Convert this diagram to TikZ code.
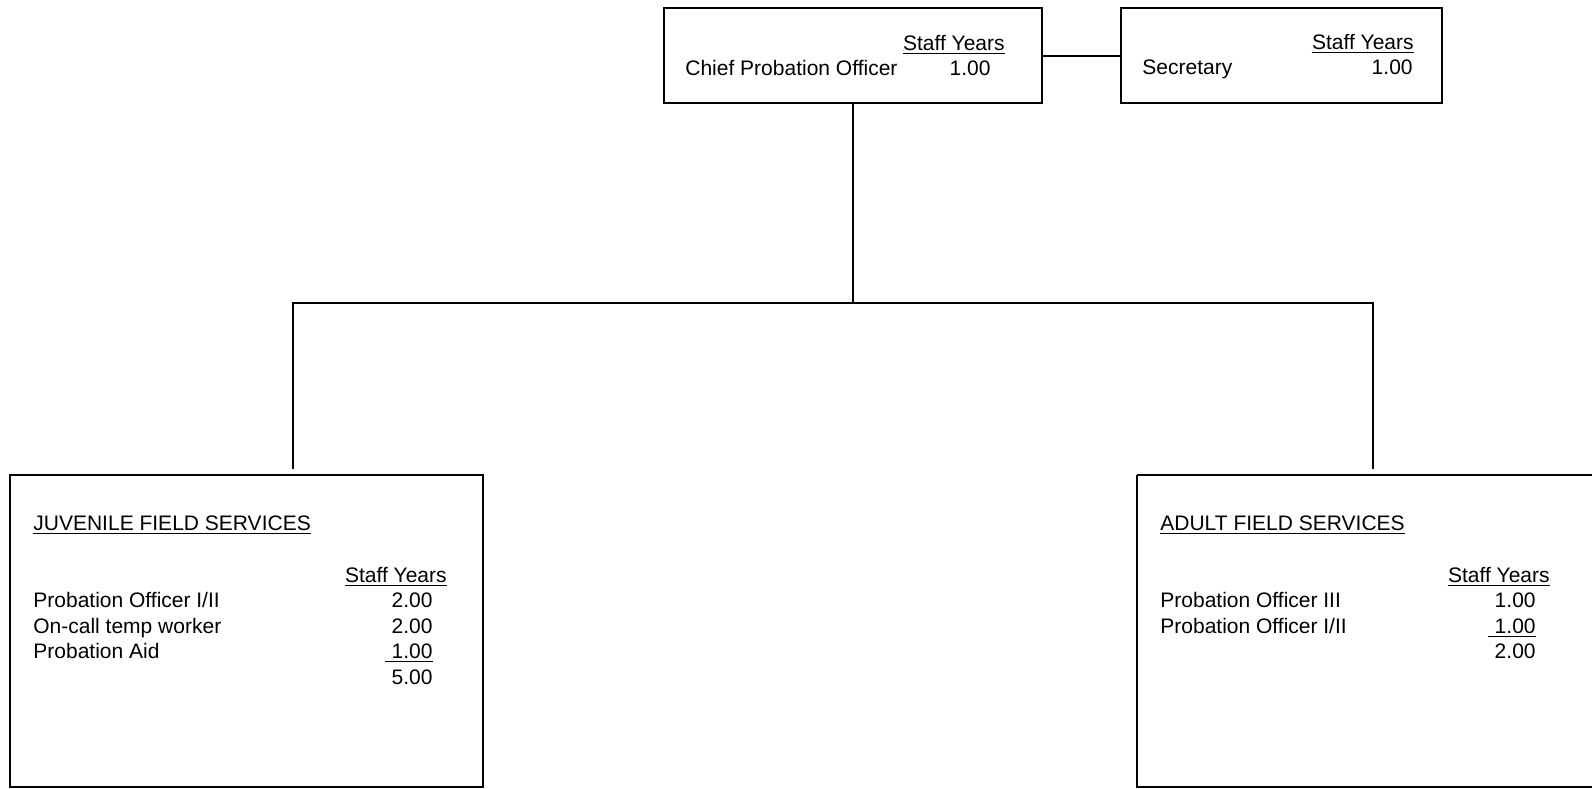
\documentclass[tikz,border=0pt]{standalone}
\usepackage{fontspec}
\setmainfont{Liberation Sans}
\begin{document}
\begin{tikzpicture}[x=0.5pt,y=-0.5pt,
  box/.style={draw,line width=0.9pt},
  conn/.style={draw,line width=0.9pt},
  txt/.style={inner sep=0pt,font=\fontsize{10.5pt}{12pt}\selectfont},
  lft/.style={txt,anchor=base west},
  rgt/.style={txt,anchor=base east},
  ulline/.style={line width=0.5pt}]
\useasboundingbox (0,0) rectangle (1592,788);
\fill[white] (0,0) rectangle (1592,788);
% boxes
\path[box] (664,8) rectangle (1042,103);
\coordinate (chiefR) at (1042,56);
\coordinate (chiefB) at (853,103);
\path[box] (1121,8) rectangle (1442,103);
\coordinate (secL) at (1121,56);
\path[box] (10,475) rectangle (483,787);
\path[box] (1137,475) -- (1600,475) (1137,475) -- (1137,787) -- (1600,787);
% connectors
\coordinate (busC) at (853,303);
\coordinate (busL) at (293,303);
\coordinate (busR) at (1373,303);
\coordinate (juvT) at (293,469);
\coordinate (adT) at (1373,469);
\draw[conn] (chiefR) -- (secL);
\draw[conn] (chiefB) -- (busC);
\draw[conn] (juvT) -- (busL) -- (busR) -- (adT);
% chief text
\node[rgt] (c1) at (1005,50) {Staff Years};
\draw[ulline] ([yshift=-1.5pt]c1.base west) -- ([yshift=-1.5pt]c1.base east);
\node[lft] (c2) at (685,75) {Chief Probation Officer};
\node[rgt] (c3) at (991,75) {1.00};
% secretary text
\node[rgt] (s1) at (1414,49) {Staff Years};
\draw[ulline] ([yshift=-1.5pt]s1.base west) -- ([yshift=-1.5pt]s1.base east);
\node[lft] (s2) at (1142,74) {Secretary};
\node[rgt] (s3) at (1413,74) {1.00};
% juvenile
\node[lft] (j0) at (33,530) {JUVENILE FIELD SERVICES};
\draw[ulline] ([yshift=-1.5pt]j0.base west) -- ([yshift=-1.5pt]j0.base east);
\node[rgt] (j1) at (447,582) {Staff Years};
\draw[ulline] ([yshift=-1.5pt]j1.base west) -- ([yshift=-1.5pt]j1.base east);
\node[lft] (j2) at (33,607) {Probation Officer I/II};
\node[rgt] (j3) at (433,607) {2.00};
\node[lft] (j4) at (33,633) {On-call temp worker};
\node[rgt] (j5) at (433,633) {2.00};
\node[lft] (j6) at (33,658) {Probation Aid};
\node[rgt] (j7) at (433,658) {1.00};
\draw[ulline] ([yshift=-1.5pt,xshift=-3pt]j7.base west) -- ([yshift=-1.5pt]j7.base east);
\node[rgt] (j8) at (433,684) {5.00};
% adult
\node[lft] (a0) at (1160,530) {ADULT FIELD SERVICES};
\draw[ulline] ([yshift=-1.5pt]a0.base west) -- ([yshift=-1.5pt]a0.base east);
\node[rgt] (a1) at (1550,582) {Staff Years};
\draw[ulline] ([yshift=-1.5pt]a1.base west) -- ([yshift=-1.5pt]a1.base east);
\node[lft] (a2) at (1160,607) {Probation Officer III};
\node[rgt] (a3) at (1536,607) {1.00};
\node[lft] (a4) at (1160,633) {Probation Officer I/II};
\node[rgt] (a5) at (1536,633) {1.00};
\draw[ulline] ([yshift=-1.5pt,xshift=-3pt]a5.base west) -- ([yshift=-1.5pt]a5.base east);
\node[rgt] (a6) at (1536,658) {2.00};
\end{tikzpicture}
\end{document}
